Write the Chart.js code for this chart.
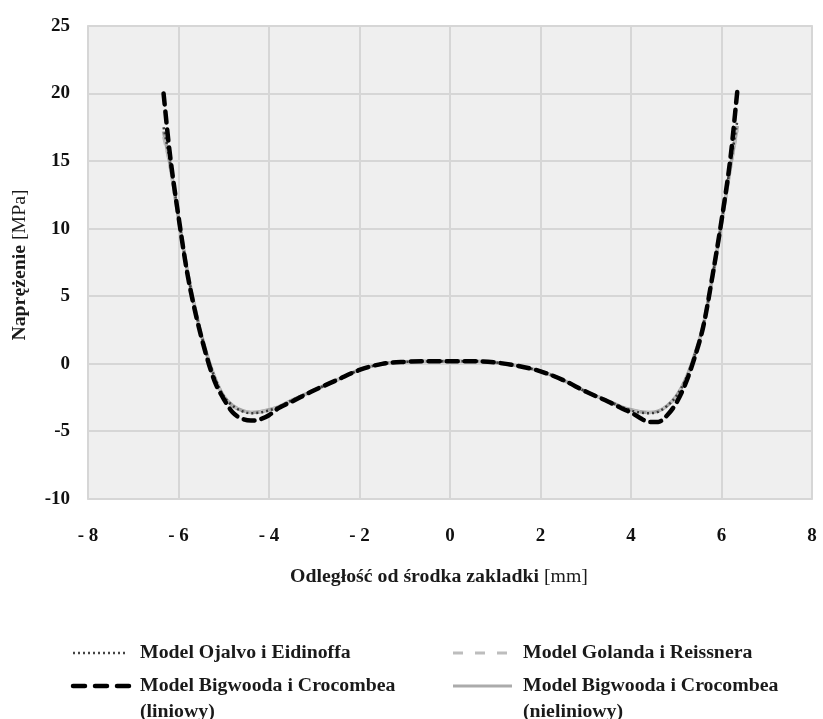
<!DOCTYPE html>
<html>
<head>
<meta charset="utf-8">
<script src="https://cdn.jsdelivr.net/npm/chart.js@4/dist/chart.umd.min.js"></script>
<style>
  body { margin: 0; background: #fff; }
  #wrap { width: 823px; height: 719px; position: relative; }
</style>
</head>
<body>
<div id="wrap"><canvas id="chart"></canvas></div>
<script>
// odległość od środka zakladki [mm]
const xs = [-6.33, -6.2, -6.0, -5.8, -5.6, -5.4, -5.2, -5.0, -4.8, -4.6, -4.4, -4.2, -4.0, -3.8, -3.5,
    -3.0, -2.5, -2.0, -1.5, -1.0, -0.5, 0, 0.5, 1.0, 1.5, 2.0, 2.5, 3.0, 3.5, 3.8, 4.0, 4.2, 4.4,
    4.6, 4.8, 5.0, 5.2, 5.4, 5.6, 5.8, 6.0, 6.2, 6.35];

// naprężenie [MPa]
const bigwoodLin = [20.0, 15.8, 10.9, 6.6, 3.4, 0.8, -1.3, -2.6, -3.6, -4.05, -4.2, -4.1, -3.8, -3.3, -2.8,
    -1.95, -1.2, -0.45, 0.0, 0.15, 0.2, 0.2, 0.2, 0.1, -0.15, -0.55, -1.2, -2.05, -2.8, -3.3, -3.6, -4.0, -4.3,
    -4.3, -3.8, -2.9, -1.5, 0.4, 2.8, 6.5, 10.6, 15.3, 20.2];
const bigwoodNonlin = [17.2, 15.0, 10.8, 6.8, 3.6, 1.0, -1.0, -2.4, -3.1, -3.45, -3.6, -3.55, -3.4, -3.2, -2.7,
    -1.95, -1.2, -0.45, 0.0, 0.15, 0.2, 0.2, 0.2, 0.1, -0.15, -0.55, -1.2, -2.05, -2.75, -3.2, -3.4, -3.55, -3.6,
    -3.5, -3.1, -2.4, -1.2, 0.6, 2.9, 6.4, 10.4, 14.6, 17.6];
const goland = [16.8, 14.8, 10.7, 6.8, 3.6, 1.0, -1.0, -2.4, -3.1, -3.45, -3.6, -3.55, -3.4, -3.2, -2.7,
    -1.95, -1.2, -0.45, 0.0, 0.15, 0.2, 0.2, 0.2, 0.1, -0.15, -0.55, -1.2, -2.05, -2.75, -3.2, -3.4, -3.55, -3.6,
    -3.5, -3.1, -2.4, -1.2, 0.6, 2.9, 6.4, 10.4, 14.5, 17.3];
const ojalvo = [17.5, 15.2, 10.9, 6.8, 3.6, 1.0, -1.0, -2.4, -3.1, -3.5, -3.65, -3.6, -3.45, -3.2, -2.7,
    -1.95, -1.2, -0.45, 0.0, 0.15, 0.2, 0.2, 0.2, 0.1, -0.15, -0.55, -1.2, -2.05, -2.75, -3.2, -3.45, -3.6, -3.65,
    -3.55, -3.1, -2.4, -1.2, 0.6, 2.9, 6.4, 10.5, 14.8, 18.0];

const legendLabels = [
    ["Model Ojalvo i Eidinoffa"],
    ["Model Golanda i Reissnera"],
    ["Model Bigwooda i Crocombea", "(liniowy)"],
    ["Model Bigwooda i Crocombea", "(nieliniowy)"]
];

const FONT = "'Liberation Serif', 'Times New Roman', serif";
const STRETCH = 1.1; // tekst w oryginale jest nieco rozciągnięty w poziomie

function pts(ys) {
    return xs.map((x, i) => ({ x: x, y: ys[i] }));
}

// teksty osi (pogrubione + zwykłe w nawiasie) i legenda pod wykresem
const extras = {
    id: "extras",
    afterDraw(chart) {
        const ctx = chart.ctx;
        ctx.save();
        ctx.fillStyle = "#1a1a1a";
        ctx.textBaseline = "middle";
        ctx.textAlign = "left";

        const mixed = (bold, normal, cx, cy) => {
            ctx.font = "bold 18px " + FONT;
            const w1 = ctx.measureText(bold).width;
            ctx.font = "18px " + FONT;
            const w2 = ctx.measureText(normal).width;
            ctx.save();
            ctx.translate(cx, cy);
            ctx.scale(STRETCH, 1);
            const x = -(w1 + w2) / 2;
            ctx.font = "bold 18px " + FONT;
            ctx.fillText(bold, x, 0);
            ctx.font = "18px " + FONT;
            ctx.fillText(normal, x + w1, 0);
            ctx.restore();
        };

        mixed("Odległość od środka zakladki ", "[mm]", 439, 577);

        ctx.save();
        ctx.translate(20, 265);
        ctx.rotate(-Math.PI / 2);
        mixed("Naprężenie ", "[MPa]", 0, 0);
        ctx.restore();

        // legenda
        const items = [
            { x: 73, y: 653, color: "#444", width: 2.5, dash: [2, 3], cap: "butt", len: 55 },
            { x: 453, y: 653, color: "#bdbdbd", width: 3, dash: [10, 12], cap: "butt", len: 59 },
            { x: 73, y: 686, color: "#000", width: 4.5, dash: [12, 10], cap: "round", len: 62 },
            { x: 453, y: 686, color: "#ababab", width: 3, dash: [], cap: "butt", len: 59 }
        ];
        items.forEach((it, i) => {
            ctx.beginPath();
            ctx.strokeStyle = it.color;
            ctx.lineWidth = it.width;
            ctx.lineCap = it.cap;
            ctx.setLineDash(it.dash);
            ctx.moveTo(it.x, it.y);
            ctx.lineTo(it.x + it.len, it.y);
            ctx.stroke();
            ctx.setLineDash([]);
            const tx = i % 2 === 0 ? 140 : 523;
            legendLabels[i].forEach((t, j) => {
                ctx.save();
                ctx.translate(tx, it.y + j * 26);
                ctx.scale(STRETCH, 1);
                ctx.font = "bold 18px " + FONT;
                ctx.fillText(t, 0, 0);
                ctx.restore();
            });
        });
        ctx.restore();
    }
};

const plotBg = {
    id: "plotBg",
    beforeDraw(chart) {
        const a = chart.chartArea;
        const ctx = chart.ctx;
        ctx.save();
        ctx.fillStyle = "#efefef";
        ctx.fillRect(a.left, a.top, a.right - a.left, a.bottom - a.top);
        ctx.strokeStyle = "#dcdcdc";
        ctx.lineWidth = 2;
        ctx.strokeRect(a.left, a.top, a.right - a.left, a.bottom - a.top);
        ctx.restore();
    }
};

new Chart(document.getElementById("chart"), {
    type: "scatter",
    data: {
        datasets: [
            {
                label: "Model Bigwooda i Crocombea (liniowy)",
                data: pts(bigwoodLin),
                borderColor: "#000",
                borderWidth: 4.5,
                borderDash: [11, 7],
                borderCapStyle: "round",
                order: 1
            },
            {
                label: "Model Ojalvo i Eidinoffa",
                data: pts(ojalvo),
                borderColor: "#3a3a3a",
                borderWidth: 2.5,
                borderDash: [2, 3],
                order: 2
            },
            {
                label: "Model Golanda i Reissnera",
                data: pts(goland),
                borderColor: "#bdbdbd",
                borderWidth: 3,
                borderDash: [8, 6],
                order: 3
            },
            {
                label: "Model Bigwooda i Crocombea (nieliniowy)",
                data: pts(bigwoodNonlin),
                borderColor: "#a5a5a5",
                borderWidth: 3.5,
                order: 4
            }
        ].map(d => Object.assign({ showLine: true, pointRadius: 0, cubicInterpolationMode: "monotone", fill: false }, d))
    },
    options: {
        responsive: true,
        maintainAspectRatio: false,
        animation: false,
        layout: { padding: { left: 0, top: 26, right: 11, bottom: 170 } },
        plugins: { legend: { display: false }, tooltip: { enabled: false } },
        scales: {
            x: {
                type: "linear",
                min: -8,
                max: 8,
                afterFit: (s) => { s.height = 50; s.paddingLeft = 0; s.paddingRight = 0; },
                grid: { color: "#d6d6d6", lineWidth: 2, drawTicks: false },
                border: { display: false },
                ticks: {
                    stepSize: 2,
                    padding: 26,
                    color: "#111",
                    font: { family: FONT, size: 19, weight: "bold" },
                    callback: (v) => (v < 0 ? "- " + Math.abs(v) : String(v))
                }
            },
            y: {
                min: -10,
                max: 25,
                afterFit: (s) => { s.width = 88; s.paddingTop = 0; s.paddingBottom = 0; },
                grid: { color: "#d6d6d6", lineWidth: 2, drawTicks: false },
                border: { display: false },
                ticks: {
                    stepSize: 5,
                    padding: 18,
                    color: "#111",
                    font: { family: FONT, size: 19, weight: "bold" }
                }
            }
        }
    },
    plugins: [plotBg, extras]
});
</script>
</body>
</html>
